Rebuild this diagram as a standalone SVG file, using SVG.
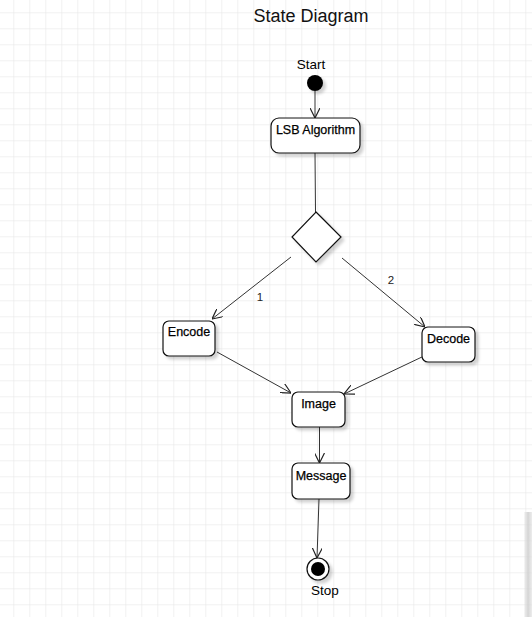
<svg xmlns="http://www.w3.org/2000/svg" width="532" height="617" viewBox="0 0 532 617">
  <defs>
    <pattern id="grid" x="13.3" y="12.3" width="16" height="16" patternUnits="userSpaceOnUse">
      <path d="M0 0H16M0 0V16" fill="none" stroke="#e4e4e4" stroke-width="1"/>
    </pattern>
    <filter id="shadow" x="-20%" y="-20%" width="150%" height="150%">
      <feDropShadow dx="3" dy="3" stdDeviation="1.5" flood-color="#000" flood-opacity="0.18"/>
    </filter>
    <linearGradient id="edge" x1="0" y1="0" x2="1" y2="0">
      <stop offset="0" stop-color="#d8d8d8" stop-opacity="0.2"/>
      <stop offset="0.5" stop-color="#cfcfcf" stop-opacity="0.9"/>
      <stop offset="1" stop-color="#e0e0e0" stop-opacity="0.6"/>
    </linearGradient>
    <marker id="open" viewBox="0 0 10 10" refX="10" refY="5" markerWidth="10" markerHeight="10" markerUnits="userSpaceOnUse" orient="auto">
      <path d="M0 0L10 5L0 10" fill="none" stroke="#222" stroke-width="1.2"/>
    </marker>
  </defs>
  <style>
    .state { fill: #fff; stroke: #111; stroke-width: 1.2; filter: url(#shadow); }
    .lbl { font-family: "Liberation Sans", Arial, sans-serif; font-size: 12.5px; fill: #000; text-anchor: middle; }
    .box { stroke: #000; stroke-width: 0.25; }
    .num { font-size: 11.5px; fill: #222; }
    .term { font-size: 13.5px; }
    .edge { fill: none; stroke: #333; stroke-width: 1; marker-end: url(#open); }
    .plain { fill: none; stroke: #333; stroke-width: 1; }
  </style>

  <rect width="532" height="617" fill="#fff"/>
  <rect width="532" height="617" fill="url(#grid)"/>
  <rect x="524" y="512" width="8" height="105" fill="url(#edge)"/>

  <text x="311" y="22" font-family="Liberation Sans, Arial, sans-serif" font-size="18" fill="#111" text-anchor="middle">State Diagram</text>

  <g id="connectors">
    <line class="edge" x1="315" y1="91" x2="315" y2="118"/>
    <line class="plain" x1="315" y1="153" x2="315.5" y2="212"/>
    <line class="edge" x1="291" y1="257" x2="212" y2="319"/>
    <line class="edge" x1="342" y1="258" x2="425" y2="327"/>
    <line class="edge" x1="217" y1="352" x2="291" y2="393"/>
    <line class="edge" x1="424" y1="356" x2="344" y2="394"/>
    <line class="edge" x1="319.5" y1="427" x2="319.5" y2="463"/>
    <line class="edge" x1="319" y1="499" x2="317" y2="558"/>
    <text class="lbl num" x="260" y="301">1</text>
    <text class="lbl num" x="391" y="284">2</text>
  </g>

  <g id="start">
    <text class="lbl term" x="311" y="69">Start</text>
    <circle cx="315" cy="83" r="8" fill="#000" filter="url(#shadow)"/>
  </g>

  <g id="lsb">
    <rect class="state" x="271" y="118" width="89" height="35" rx="8"/>
    <text class="lbl box" x="315.5" y="133.5">LSB Algorithm</text>
  </g>

  <g id="choice">
    <path class="state" d="M316 212L341 237L316 262L292 237Z"/>
  </g>

  <g id="encode">
    <rect class="state" x="163" y="321" width="52" height="35" rx="6"/>
    <text class="lbl box" x="189" y="335.5">Encode</text>
  </g>

  <g id="decode">
    <rect class="state" x="422" y="327" width="53" height="35" rx="6"/>
    <text class="lbl box" x="448.5" y="342.5">Decode</text>
  </g>

  <g id="image">
    <rect class="state" x="292" y="392" width="53" height="35" rx="6"/>
    <text class="lbl box" x="318.5" y="407.5">Image</text>
  </g>

  <g id="message">
    <rect class="state" x="292" y="463" width="58" height="36" rx="6"/>
    <text class="lbl box" x="321" y="479.5">Message</text>
  </g>

  <g id="stop">
    <circle cx="318" cy="569" r="11" fill="#fff" stroke="#111" stroke-width="1.2" filter="url(#shadow)"/>
    <circle cx="318" cy="569" r="7" fill="#000"/>
    <text class="lbl term" x="325" y="595">Stop</text>
  </g>
</svg>
